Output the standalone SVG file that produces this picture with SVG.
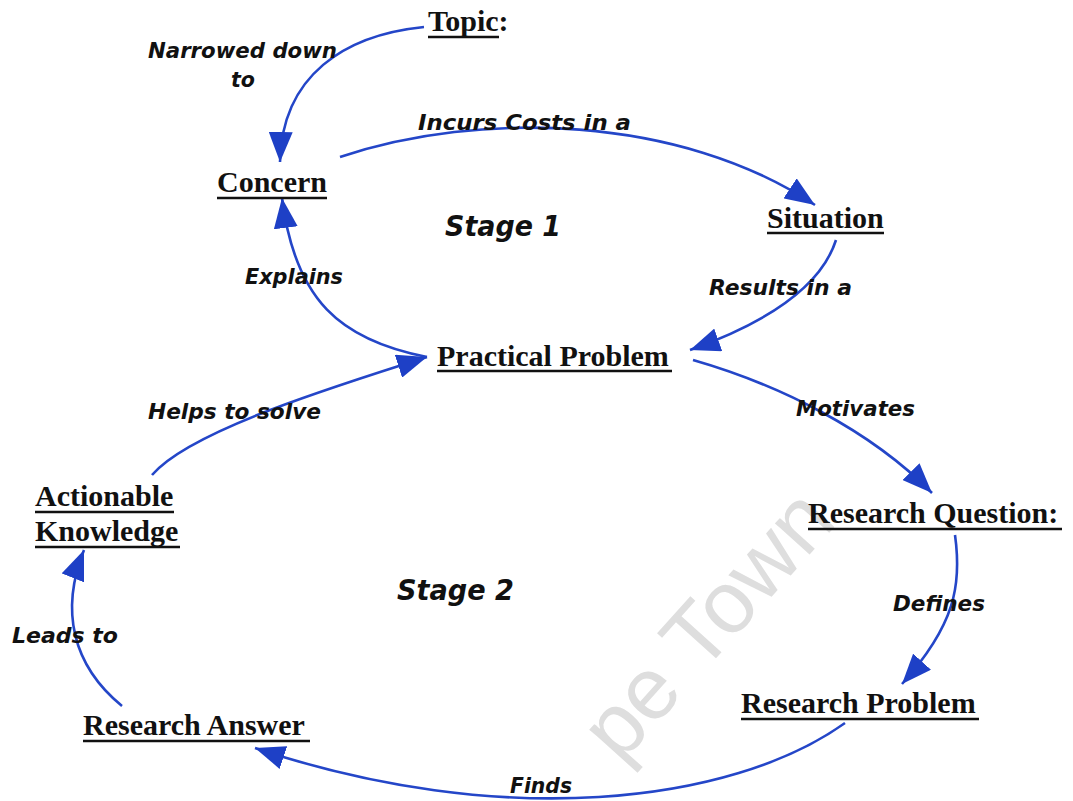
<svg xmlns="http://www.w3.org/2000/svg" width="1073" height="801" viewBox="0 0 1073 801">
  <style>
    .node { font-family: "Liberation Serif", "Times New Roman", serif; font-weight: bold; font-size: 30px; fill: #111; }
    .ul { stroke: #111; stroke-width: 2.6; }
    .lbl { font-family: "DejaVu Sans", "Noto Sans", sans-serif; font-weight: bold; font-style: italic; font-size: 21px; fill: #111; }
    .stage { font-family: "DejaVu Sans", "Noto Sans", sans-serif; font-weight: bold; font-style: italic; font-size: 28px; fill: #111; }
    .edge { fill: none; stroke: #2446c8; stroke-width: 2.6; marker-end: url(#arrow); }
    .mark { font-family: "Liberation Sans", Arial, sans-serif; font-size: 88px; fill: #dedede; }
  </style>
  <defs>
    <marker id="arrow" markerUnits="userSpaceOnUse" markerWidth="31" markerHeight="24" refX="30" refY="12" orient="auto">
      <path d="M0,0 L30,12 L0,24 z" fill="#1e40c6"/>
    </marker>
  </defs>

  <rect width="1073" height="801" fill="#ffffff"/>

  <!-- faint background stamp -->
  <text class="mark" x="0" y="0" transform="translate(620,765) rotate(-48)">pe Town</text>

  <!-- connectors -->
  <g id="connectors">
    <path class="edge" d="M424,27 C345,35 282,75 280,162"/>
    <path class="edge" d="M340,157 C480,110 680,115 815,205"/>
    <path class="edge" d="M836,240 C820,290 760,325 690,350"/>
    <path class="edge" d="M427,357 C340,340 295,300 282,198"/>
    <path class="edge" d="M693,360 C780,385 870,430 932,493"/>
    <path class="edge" d="M152,475 C190,430 340,385 427,357"/>
    <path class="edge" d="M955,535 C962,585 955,625 902,684"/>
    <path class="edge" d="M845,723 C730,805 500,830 255,748"/>
    <path class="edge" d="M122,706 C72,665 60,610 84,550"/>
  </g>

  <!-- connector labels -->
  <g id="labels">
    <text class="lbl" x="148" y="58" textLength="189" lengthAdjust="spacingAndGlyphs">Narrowed down</text>
    <text class="lbl" x="231" y="87" textLength="24" lengthAdjust="spacingAndGlyphs">to</text>
    <text class="lbl" x="418" y="130" textLength="213" lengthAdjust="spacingAndGlyphs">Incurs Costs in a</text>
    <text class="lbl" x="245" y="284" textLength="98" lengthAdjust="spacingAndGlyphs">Explains</text>
    <text class="lbl" x="709" y="295" textLength="143" lengthAdjust="spacingAndGlyphs">Results in a</text>
    <text class="lbl" x="148" y="419" textLength="173" lengthAdjust="spacingAndGlyphs">Helps to solve</text>
    <text class="lbl" x="796" y="416" textLength="119" lengthAdjust="spacingAndGlyphs">Motivates</text>
    <text class="lbl" x="893" y="611" textLength="92" lengthAdjust="spacingAndGlyphs">Defines</text>
    <text class="lbl" x="12" y="643" textLength="106" lengthAdjust="spacingAndGlyphs">Leads to</text>
    <text class="lbl" x="510" y="793" textLength="62" lengthAdjust="spacingAndGlyphs">Finds</text>
  </g>

  <!-- stage captions -->
  <g id="stages">
    <text class="stage" x="445" y="236" textLength="116" lengthAdjust="spacingAndGlyphs">Stage 1</text>
    <text class="stage" x="397" y="600" textLength="117" lengthAdjust="spacingAndGlyphs">Stage 2</text>
  </g>

  <!-- nodes -->
  <g id="topic">
    <text class="node" x="428" y="31">Topic:</text>
    <line class="ul" x1="428" y1="37" x2="499" y2="37"/>
  </g>
  <g id="concern">
    <text class="node" x="217" y="192">Concern</text>
    <line class="ul" x1="217" y1="198" x2="327" y2="198"/>
  </g>
  <g id="situation">
    <text class="node" x="767" y="228">Situation</text>
    <line class="ul" x1="767" y1="233" x2="884" y2="233"/>
  </g>
  <g id="practical-problem">
    <text class="node" x="437" y="366">Practical Problem</text>
    <line class="ul" x1="437" y1="371" x2="672" y2="371"/>
  </g>
  <g id="research-question">
    <text class="node" x="808" y="523">Research Question:</text>
    <line class="ul" x1="808" y1="529" x2="1062" y2="529"/>
  </g>
  <g id="actionable-knowledge">
    <text class="node" x="35" y="506">Actionable</text>
    <line class="ul" x1="35" y1="512" x2="174" y2="512"/>
    <text class="node" x="35" y="541">Knowledge</text>
    <line class="ul" x1="35" y1="547" x2="180" y2="547"/>
  </g>
  <g id="research-problem">
    <text class="node" x="741" y="713">Research Problem</text>
    <line class="ul" x1="741" y1="719" x2="979" y2="719"/>
  </g>
  <g id="research-answer">
    <text class="node" x="83" y="735">Research Answer</text>
    <line class="ul" x1="83" y1="741" x2="310" y2="741"/>
  </g>
</svg>
